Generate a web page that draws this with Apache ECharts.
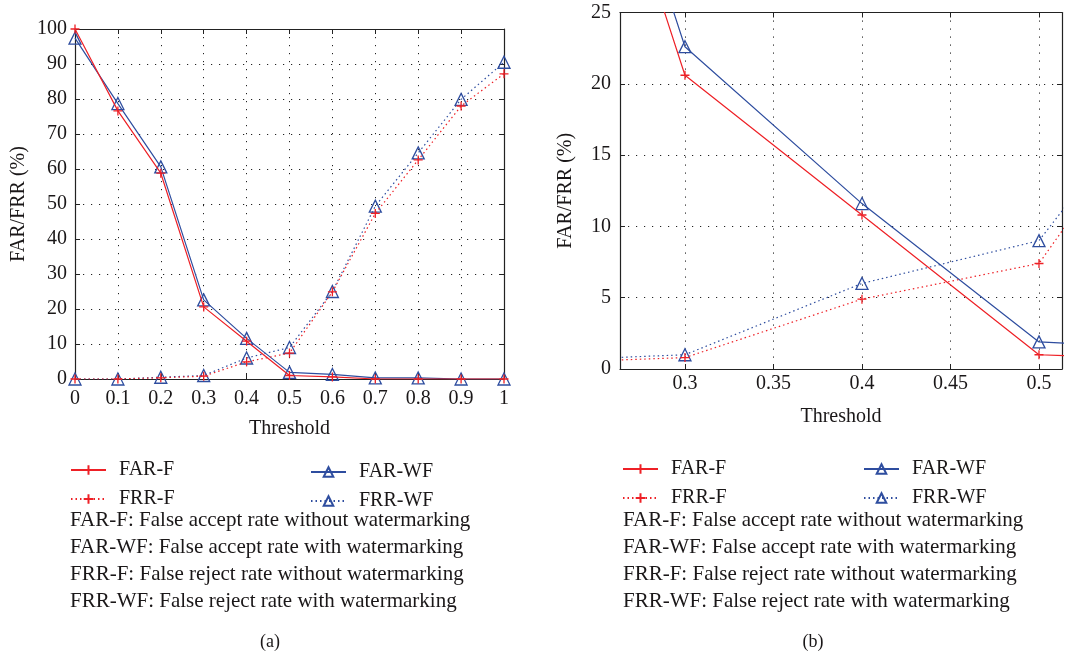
<!DOCTYPE html>
<html>
<head>
<meta charset="utf-8">
<script src="https://cdn.jsdelivr.net/npm/echarts@6/dist/echarts.min.js"></script>
<style>
html,body{margin:0;padding:0;background:#fff;}
#chart{width:1074px;height:654px;}
</style>
</head>
<body>
<div id="chart"></div>
<script>
// ---- data ----
const thresholds = [0, 0.1, 0.2, 0.3, 0.4, 0.5, 0.6, 0.7, 0.8, 0.9, 1.0];
const farF  = [100, 76.6, 58.8, 20.6, 10.8, 1.0, 0.6, 0, 0, 0, 0];
const farWF = [97.4, 78.7, 60.6, 22.6, 11.6, 1.9, 1.3, 0.3, 0.3, 0, 0];
const frrF  = [0, 0, 0.35, 0.8, 4.9, 7.4, 24.9, 47.3, 62.6, 78.0, 87.2];
const frrWF = [0, 0, 0.5, 1.0, 6.0, 9.0, 25.0, 49.4, 64.6, 79.9, 90.5];
const seriesNames = ['FAR-F', 'FAR-WF', 'FRR-F', 'FRR-WF'];
const descriptions = [
  'FAR-F: False accept rate without watermarking',
  'FAR-WF: False accept rate with watermarking',
  'FRR-F: False reject rate without watermarking',
  'FRR-WF: False reject rate with watermarking'
];
const zoomTicks = [0.3, 0.35, 0.4, 0.45, 0.5];
const panelLabels = ['(a)', '(b)'];

// ---- styles ----
const FONT = 'Liberation Serif';
const TXT = '#1a1718';
const RED = '#ee2026';
const BLUE = '#2e4d9f';
const PLUS = 'path://M0 5L10 5M5 0L5 10';

function pairs(ys) { return thresholds.map((x, i) => [x, ys[i]]); }

const splitStyle = { show: true, lineStyle: { color: '#222', width: 1, type: [1.2, 6.8] } };
const axisLine = { show: true, onZero: false, lineStyle: { color: '#222', width: 1.2 } };
const tickIn = { show: true, inside: true, length: 5, lineStyle: { color: '#222', width: 1 } };

function mkSeries(name, ys, xi, yi) {
  const isF = name.endsWith('-F');
  const color = isF ? RED : BLUE;
  const dotted = name.startsWith('FRR');
  return {
    name: name, type: 'line', xAxisIndex: xi, yAxisIndex: yi,
    data: pairs(ys), clip: true, showAllSymbol: true,
    symbol: isF ? PLUS : 'triangle',
    symbolSize: isF ? 9 : 12,
    lineStyle: { color: color, width: 1.2, type: dotted ? [1.5, 3] : 'solid' },
    itemStyle: { color: isF ? color : 'rgba(255,255,255,0)', borderColor: color, borderWidth: 1.3 },
    emphasis: { disabled: true },
    z: isF ? 3 : 2
  };
}

const gridA = { left: 75, top: 29, width: 429, height: 350 };
const gridB = { left: 620, top: 12.5, width: 442, height: 356.5 };

const option = {
  backgroundColor: '#fff',
  animation: false,
  textStyle: { fontFamily: FONT, color: TXT },
  grid: [
    Object.assign({ containLabel: false }, gridA),
    Object.assign({ containLabel: false }, gridB)
  ],
  xAxis: [
    { gridIndex: 0, type: 'value', min: 0, max: 1, interval: 0.1, position: 'bottom',
      axisLine: axisLine, axisTick: tickIn, splitLine: splitStyle,
      axisLabel: { fontFamily: FONT, fontSize: 20, color: TXT, margin: 10 },
      name: 'Threshold', nameLocation: 'middle', nameGap: 40,
      nameTextStyle: { fontFamily: FONT, fontSize: 20, color: TXT } },
    { gridIndex: 0, type: 'value', min: 0, max: 1, interval: 0.1, position: 'top',
      axisLine: axisLine, axisTick: tickIn, splitLine: { show: false }, axisLabel: { show: false } },
    { gridIndex: 1, type: 'value', min: 0.2633, max: 0.513, position: 'bottom',
      axisLine: axisLine,
      axisTick: Object.assign({ customValues: zoomTicks }, tickIn),
      splitLine: splitStyle,
      axisLabel: { fontFamily: FONT, fontSize: 20, color: TXT, margin: 5, customValues: zoomTicks },
      name: 'Threshold', nameLocation: 'middle', nameGap: 38,
      nameTextStyle: { fontFamily: FONT, fontSize: 20, color: TXT } },
    { gridIndex: 1, type: 'value', min: 0.2633, max: 0.513, position: 'top',
      axisLine: axisLine,
      axisTick: Object.assign({ customValues: zoomTicks }, tickIn),
      splitLine: { show: false }, axisLabel: { show: false, customValues: zoomTicks } }
  ],
  yAxis: [
    { gridIndex: 0, type: 'value', min: 0, max: 100, interval: 10, position: 'left',
      axisLine: axisLine, axisTick: tickIn, splitLine: splitStyle,
      axisLabel: { fontFamily: FONT, fontSize: 20, color: TXT, margin: 8 },
      name: 'FAR/FRR (%)', nameLocation: 'middle', nameGap: 46,
      nameTextStyle: { fontFamily: FONT, fontSize: 20, color: TXT } },
    { gridIndex: 0, type: 'value', min: 0, max: 100, interval: 10, position: 'right',
      axisLine: axisLine, axisTick: tickIn, splitLine: { show: false }, axisLabel: { show: false } },
    { gridIndex: 1, type: 'value', min: 0, max: 25, interval: 5, position: 'left',
      axisLine: axisLine, axisTick: tickIn, splitLine: splitStyle,
      axisLabel: { fontFamily: FONT, fontSize: 20, color: TXT, margin: 9 },
      name: 'FAR/FRR (%)', nameLocation: 'middle', nameGap: 44,
      nameTextStyle: { fontFamily: FONT, fontSize: 20, color: TXT } },
    { gridIndex: 1, type: 'value', min: 0, max: 25, interval: 5, position: 'right',
      axisLine: axisLine, axisTick: tickIn, splitLine: { show: false }, axisLabel: { show: false } }
  ],
  legend: [
    { data: [seriesNames[0], seriesNames[2]], left: 65, top: 455 },
    { data: [seriesNames[1], seriesNames[3]], left: 305, top: 457 },
    { data: [seriesNames[0], seriesNames[2]], left: 617, top: 454 },
    { data: [seriesNames[1], seriesNames[3]], left: 858, top: 454 }
  ].map(l => Object.assign({
    orient: 'vertical', itemWidth: 35, itemHeight: 12, itemGap: 9,
    selectedMode: false,
    textStyle: { fontFamily: FONT, fontSize: 20, color: TXT, padding: [0, 0, 0, 8] }
  }, l)),
  title: [
    { text: descriptions.join('\n'), left: 65, top: 502,
      textStyle: { fontFamily: FONT, fontSize: 21, fontWeight: 'normal', color: TXT, lineHeight: 27 } },
    { text: descriptions.join('\n'), left: 618, top: 502,
      textStyle: { fontFamily: FONT, fontSize: 21, fontWeight: 'normal', color: TXT, lineHeight: 27 } },
    { text: panelLabels[0], left: 265, top: 628, textAlign: 'center',
      textStyle: { fontFamily: FONT, fontSize: 18, fontWeight: 'normal', color: TXT } },
    { text: panelLabels[1], left: 808, top: 628, textAlign: 'center',
      textStyle: { fontFamily: FONT, fontSize: 18, fontWeight: 'normal', color: TXT } }
  ],
  series: [
    mkSeries('FAR-F', farF, 0, 0),
    mkSeries('FAR-WF', farWF, 0, 0),
    mkSeries('FRR-F', frrF, 0, 0),
    mkSeries('FRR-WF', frrWF, 0, 0),
    mkSeries('FAR-F', farF, 2, 2),
    mkSeries('FAR-WF', farWF, 2, 2),
    mkSeries('FRR-F', frrF, 2, 2),
    mkSeries('FRR-WF', frrWF, 2, 2)
  ]
};

const chart = echarts.init(document.getElementById('chart'), null, { renderer: 'canvas' });
chart.setOption(option);
</script>
</body>
</html>
